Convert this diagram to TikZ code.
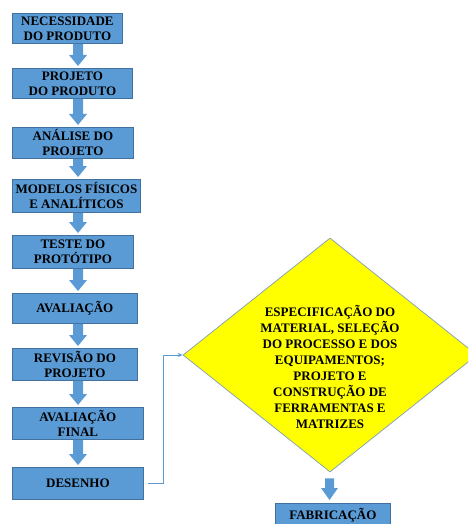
\documentclass[tikz,border=0pt]{standalone}
\usepackage{fontspec}
\setmainfont{Liberation Serif}
\usetikzlibrary{shapes.geometric,calc,arrows.meta}

\definecolor{boxblue}{HTML}{5B9BD5}
\definecolor{boxedge}{HTML}{41719C}
\definecolor{specyellow}{HTML}{FFFF00}
\definecolor{specedge}{HTML}{7F9DB9}

\begin{document}
\begin{tikzpicture}[x=1pt,y=-1pt]

	\tikzstyle stage box=[draw=boxedge, fill=boxblue, line width=0.8pt, inner sep=0pt, anchor=north west, align=center, font=\fontsize{13}{15}\selectfont\bfseries];
	\tikzstyle block arrow=[fill=boxblue, draw=none];
	\tikzstyle spec shape=[shape=diamond, draw=specedge, fill=specyellow, line width=0.7pt, inner sep=0pt, minimum width=294pt, minimum height=234pt, aspect=1.256];
	\tikzstyle spec text=[align=center, font=\fontsize{13}{16}\selectfont\bfseries];
	\tikzstyle link line=[draw=boxblue, line width=0.8pt, -{Stealth[length=5pt,width=4pt]}];

	\useasboundingbox (0,0) rectangle (468,524);
	\clip (0,0) rectangle (468,524);

	% left column
	\foreach \name/\l/\t/\r/\b/\txt in {
		nec/12/13/122/43/{NECESSIDADE\\DO PRODUTO},
		proj/12/68/132/98/{PROJETO\\DO PRODUTO},
		anal/12/127/133/158/{ANÁLISE DO\\PROJETO},
		mod/12/179/140/212/{MODELOS FÍSICOS\\E ANALÍTICOS},
		teste/12/235/133/268/{TESTE DO\\PROTÓTIPO},
		aval/12/293/137/323/{AVALIAÇÃO},
		rev/12/348/137/380/{REVISÃO DO\\PROJETO},
		final/12/407/143/439/{AVALIAÇÃO\\FINAL},
		des/12/467/143/499/{DESENHO}}
		\node[stage box, minimum width={\r-\l}, minimum height={\b-\t}] (\name) at (\l,\t) {\txt};

	% block arrows: shaft 10, head 18 wide and 11 long
	\foreach \a/\b/\cx in {nec/proj/78,proj/anal/78,anal/mod/78,mod/teste/78,teste/aval/78,aval/rev/78,rev/final/78,final/des/78}
		\path[block arrow] let \p1=(\a.south), \p2=(\b.north) in
			(\cx pt-5pt,\y1) -- (\cx pt+5pt,\y1) -- (\cx pt+5pt,\y2+13pt) -- (\cx pt+9pt,\y2+13pt)
			-- (\cx pt,\y2+2pt) -- (\cx pt-9pt,\y2+13pt) -- (\cx pt-5pt,\y2+13pt) -- cycle;

	% right side
	\node[spec shape] (spec) at (330,355) {};
	\node[spec text] (spectext) at (330,367) {ESPECIFICAÇÃO DO\\MATERIAL, SELEÇÃO\\DO PROCESSO E DOS\\EQUIPAMENTOS;\\PROJETO E\\CONSTRUÇÃO DE\\FERRAMENTAS E\\MATRIZES};
	\node[stage box, minimum width=115, minimum height=24] (fab) at (275,503) {FABRICAÇÃO};

	\path[block arrow] let \p1=(spec.south), \p2=(fab.north) in
		(325pt,\y1-6pt) -- (334pt,\y1-6pt) -- (334pt,\y2+15pt) -- (338pt,\y2+15pt)
		-- (329.5pt,\y2+3pt) -- (321pt,\y2+15pt) -- (325pt,\y2+15pt) -- cycle;

	\draw[link line, shorten <=4pt] (des.east) -- ($(des.east)+(20,0)$) |- (spec.west);

\end{tikzpicture}
\end{document}
